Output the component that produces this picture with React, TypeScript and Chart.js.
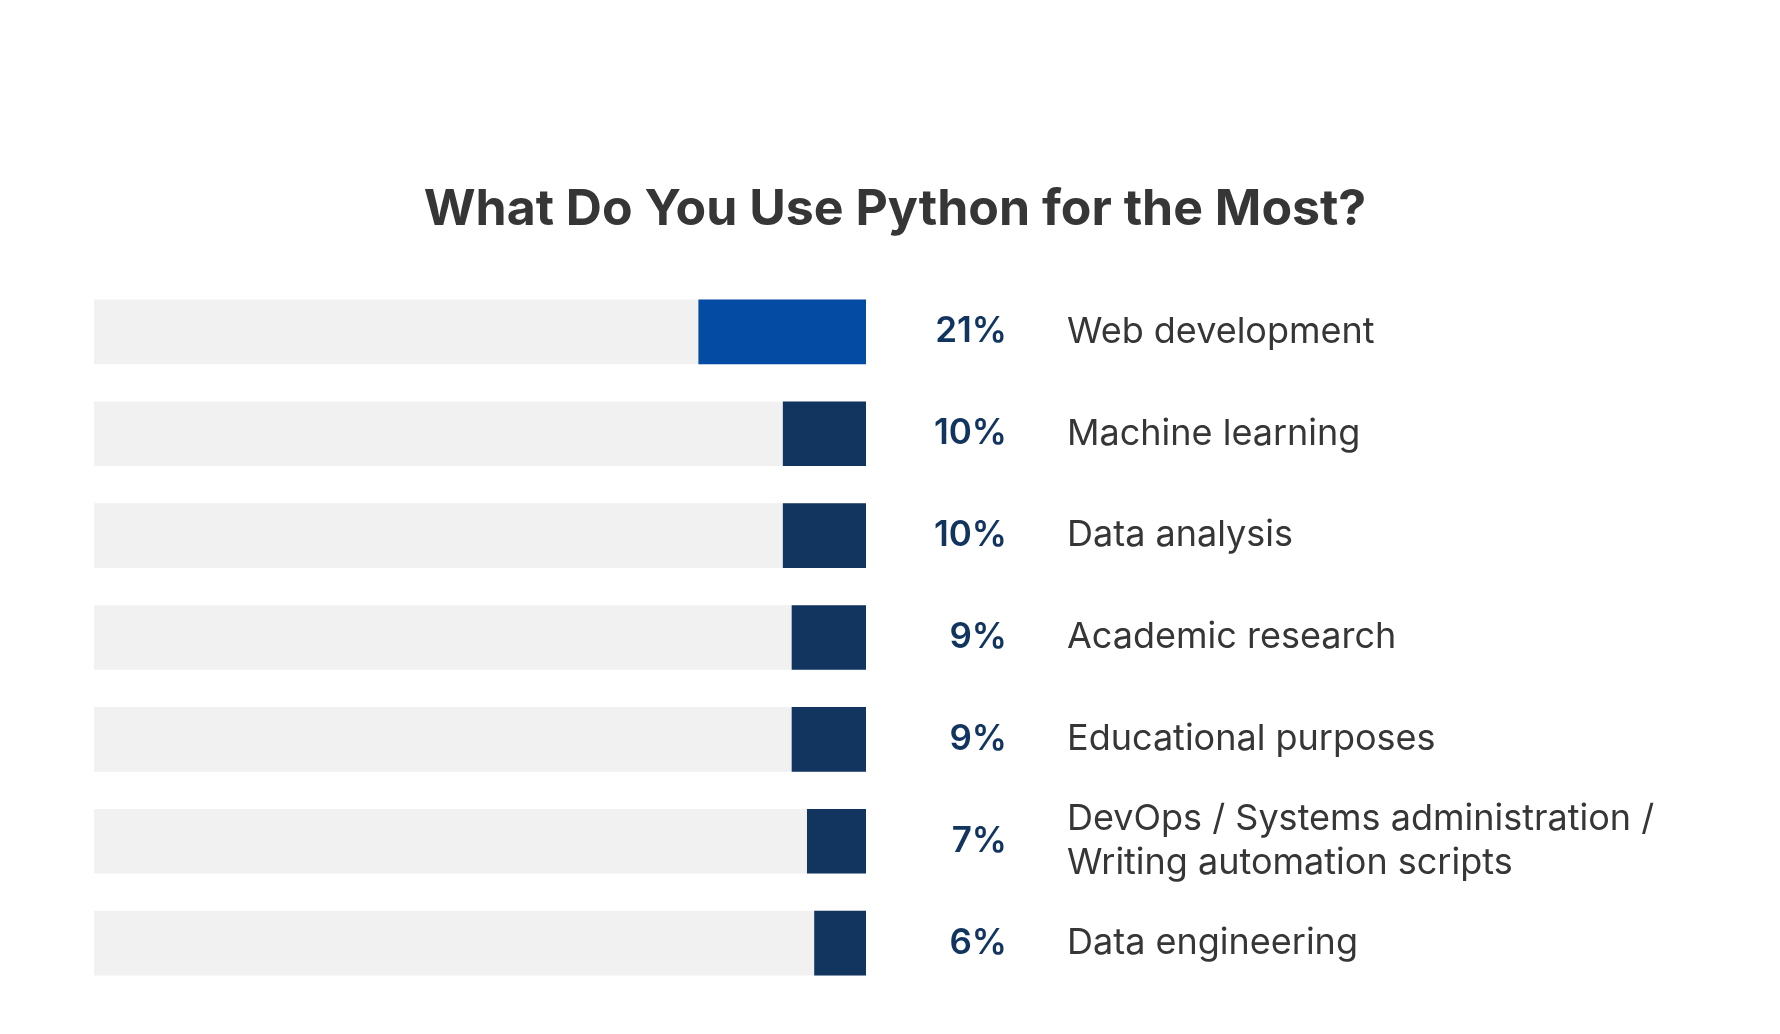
import React, { useEffect, useRef } from "react";
import { Chart, registerables } from "chart.js";

Chart.register(...registerables);

const titleText = "What Do You Use Python for the Most?";
const categories: string[][] = [
  ["Web development"],
  ["Machine learning"],
  ["Data analysis"],
  ["Academic research"],
  ["Educational purposes"],
  ["DevOps / Systems administration /", "Writing automation scripts"],
  ["Data engineering"],
];
const shareValues: number[] = [20.8, 10.3, 10.3, 9.2, 9.2, 7.3, 6.4];
const shareLabels: string[] = ["21%", "10%", "10%", "9%", "9%", "7%", "6%"];
const barColors: string[] = ["#044BA3", "#12355F", "#12355F", "#12355F", "#12355F", "#12355F", "#12355F"];
const axisMax = 96;
const trackValues: number[] = categories.map(() => axisMax);

const labelPlugin = {
  id: "rowLabels",
  afterDatasetsDraw(chart: any) {
    const { ctx, chartArea, scales, width } = chart;
    const y = scales.y;
    ctx.save();
    ctx.textBaseline = "middle";
    ctx.font = "700 50px Inter";
    ctx.fillStyle = "#363636";
    ctx.textAlign = "center";
    ctx.fillText(titleText, width / 2 + 5, 210);
    categories.forEach((lines, i) => {
      const cy = y.getPixelForValue(i);
      ctx.font = "600 35px Inter";
      ctx.fillStyle = "#12355F";
      ctx.textAlign = "right";
      ctx.fillText(shareLabels[i], chartArea.right + 141, cy);
      ctx.font = "400 36px Inter";
      ctx.fillStyle = "#363636";
      ctx.textAlign = "left";
      const lh = 44;
      const startY = cy - ((lines.length - 1) * lh) / 2;
      lines.forEach((ln, k) => ctx.fillText(ln, chartArea.right + 201, startY + k * lh));
    });
    ctx.restore();
  },
};

export default function App() {
  const ref = useRef<HTMLCanvasElement | null>(null);
  useEffect(() => {
    if (!ref.current) return;
    const chart = new Chart(ref.current, {
      type: "bar",
      data: {
        labels: categories.map((c) => c.join(" ")),
        datasets: [
          {
            data: shareValues,
            backgroundColor: barColors,
            barThickness: 64,
            grouped: false,
            order: 1,
          },
          {
            data: trackValues,
            backgroundColor: "#F1F1F1",
            barThickness: 64,
            grouped: false,
            order: 2,
          },
        ],
      },
      options: {
        indexAxis: "y",
        animation: false,
        responsive: false,
        layout: { padding: { left: 94, right: 914, top: 281, bottom: 40 } },
        scales: {
          x: { reverse: true, min: 0, max: axisMax, display: false, grid: { display: false } },
          y: { display: false, grid: { display: false } },
        },
        plugins: {
          legend: { display: false },
          tooltip: { enabled: false },
          title: { display: false },
        },
      },
      plugins: [labelPlugin],
    });
    return () => chart.destroy();
  }, []);
  return (
    <div style={{ position: "fixed", left: 0, top: 0, width: 1780, height: 1034, background: "#fff" }}>
      <canvas ref={ref} width={1780} height={1034} />
    </div>
  );
}
